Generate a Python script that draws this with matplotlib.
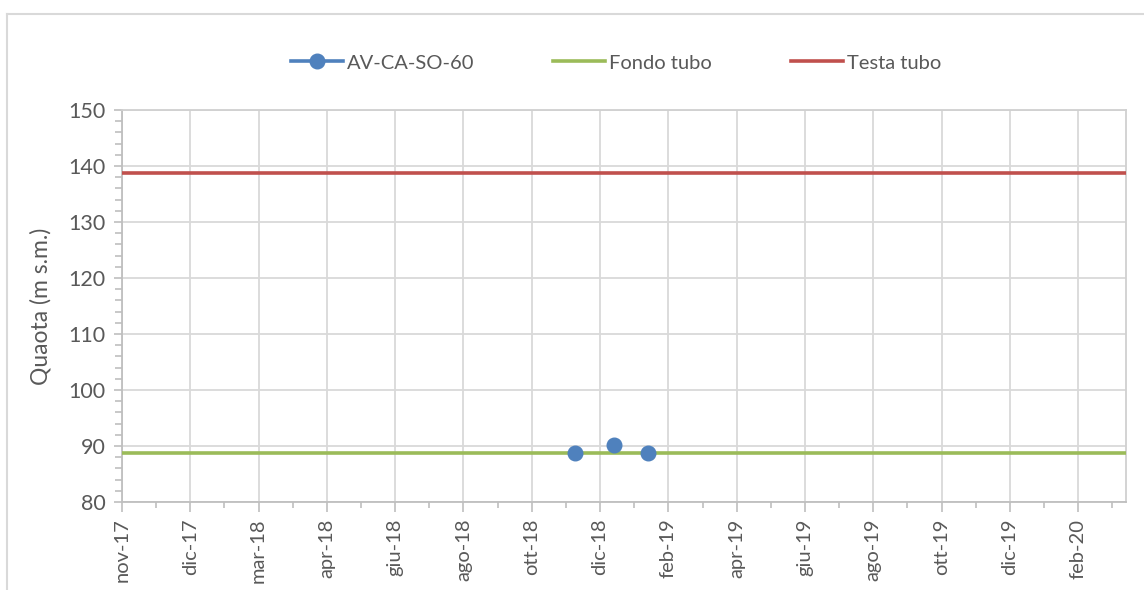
import datetime as dt
import matplotlib
matplotlib.use('Agg')
import matplotlib.pyplot as plt
import matplotlib.dates as mdates
from matplotlib.lines import Line2D
from matplotlib.ticker import FixedLocator, FuncFormatter, MultipleLocator

plt.rcParams['font.family'] = ['Lato', 'DejaVu Sans']

# ── dati ──
misure_date = [dt.date(2018, 12, 4), dt.date(2019, 1, 7), dt.date(2019, 2, 6)]
misure_quota = [88.8, 90.2, 88.8]

asse_date = [dt.date(2017, 11, 1), dt.date(2020, 4, 1)]
fondo_tubo = [88.7, 88.7]
testa_tubo = [138.7, 138.7]

MESI = ['gen', 'feb', 'mar', 'apr', 'mag', 'giu',
        'lug', 'ago', 'set', 'ott', 'nov', 'dic']

BLU = '#4f81bd'
VERDE = '#9bbb59'
ROSSO = '#c0504d'
TESTO = '#595959'
GRIGLIA = '#d9d9d9'

fig = plt.figure(figsize=(11.44, 5.90), dpi=100)
ax = fig.add_axes([122 / 1144, 1 - 502 / 590, (1126 - 122) / 1144, (502 - 110) / 590])

ax.plot(asse_date, fondo_tubo, color=VERDE, lw=2.6, solid_capstyle='butt', zorder=3)
ax.plot(asse_date, testa_tubo, color=ROSSO, lw=2.6, solid_capstyle='butt', zorder=3,
        clip_on=False)
ax.plot(misure_date, misure_quota, ls='none', marker='o', ms=10.5,
        color=BLU, zorder=4)

# asse x: passo 60 giorni come in Excel
start = mdates.date2num(asse_date[0])
end = mdates.date2num(asse_date[1])
ax.set_xlim(start, end)
ax.set_ylim(80, 150)

major = [start + 60 * i for i in range(int((end - start) // 60) + 1)]
minor = [start + 30 * i for i in range(int((end - start) // 30) + 1)]
ax.xaxis.set_major_locator(FixedLocator(major))
ax.xaxis.set_minor_locator(FixedLocator(minor))


def fmt_data(x, pos):
    d = mdates.num2date(x)
    return f'{MESI[d.month - 1]}-{d.year % 100:02d}'


ax.xaxis.set_major_formatter(FuncFormatter(fmt_data))
ax.yaxis.set_major_locator(MultipleLocator(10))
ax.yaxis.set_minor_locator(MultipleLocator(2))

ax.grid(True, which='major', color=GRIGLIA, lw=1.3, zorder=0)
ax.set_axisbelow(True)
for s in ['top', 'right']:
    ax.spines[s].set_color('#d0d0d0')
    ax.spines[s].set_linewidth(1.3)
for s in ['left', 'bottom']:
    ax.spines[s].set_color('#bfbfbf')
    ax.spines[s].set_linewidth(1.3)

ax.tick_params(axis='x', which='major', length=7, width=1.2, color='#bfbfbf',
               labelsize=14.5, labelcolor=TESTO, rotation=90, pad=5)
ax.tick_params(axis='x', which='minor', length=4, width=1.2, color='#bfbfbf')
ax.tick_params(axis='y', which='major', length=6, width=1.2, color='#bfbfbf',
               labelsize=15.5, labelcolor=TESTO, pad=6)
ax.tick_params(axis='y', which='minor', length=5, width=1.2, color='#bfbfbf')

ax.set_ylabel('Quaota (m s.m.)', fontsize=16.5, color=TESTO)
ax.yaxis.set_label_coords(-0.07, 0.5)

handles = [
    Line2D([], [], color=BLU, lw=2.6, marker='o', ms=10.5),
    Line2D([], [], color=VERDE, lw=2.6),
    Line2D([], [], color=ROSSO, lw=2.6),
]
labels = ['AV-CA-SO-60', 'Fondo tubo', 'Testa tubo']
leg = fig.legend(handles, labels, loc='center', bbox_to_anchor=(616 / 1144, 1 - 63 / 590),
                 ncol=3, frameon=False, fontsize=14.5, handlelength=2.6,
                 handletextpad=0.2, columnspacing=3.9)
for t in leg.get_texts():
    t.set_color(TESTO)

# cornice del grafico (tagliata a destra e in basso)
fig.add_artist(Line2D([7 / 1144, 7 / 1144], [0, 1 - 14 / 590],
                      transform=fig.transFigure, color=GRIGLIA, lw=1.5))
fig.add_artist(Line2D([7 / 1144, 1], [1 - 14 / 590, 1 - 14 / 590],
                      transform=fig.transFigure, color=GRIGLIA, lw=1.5))

fig.savefig('out.png', dpi=100, facecolor='white')
